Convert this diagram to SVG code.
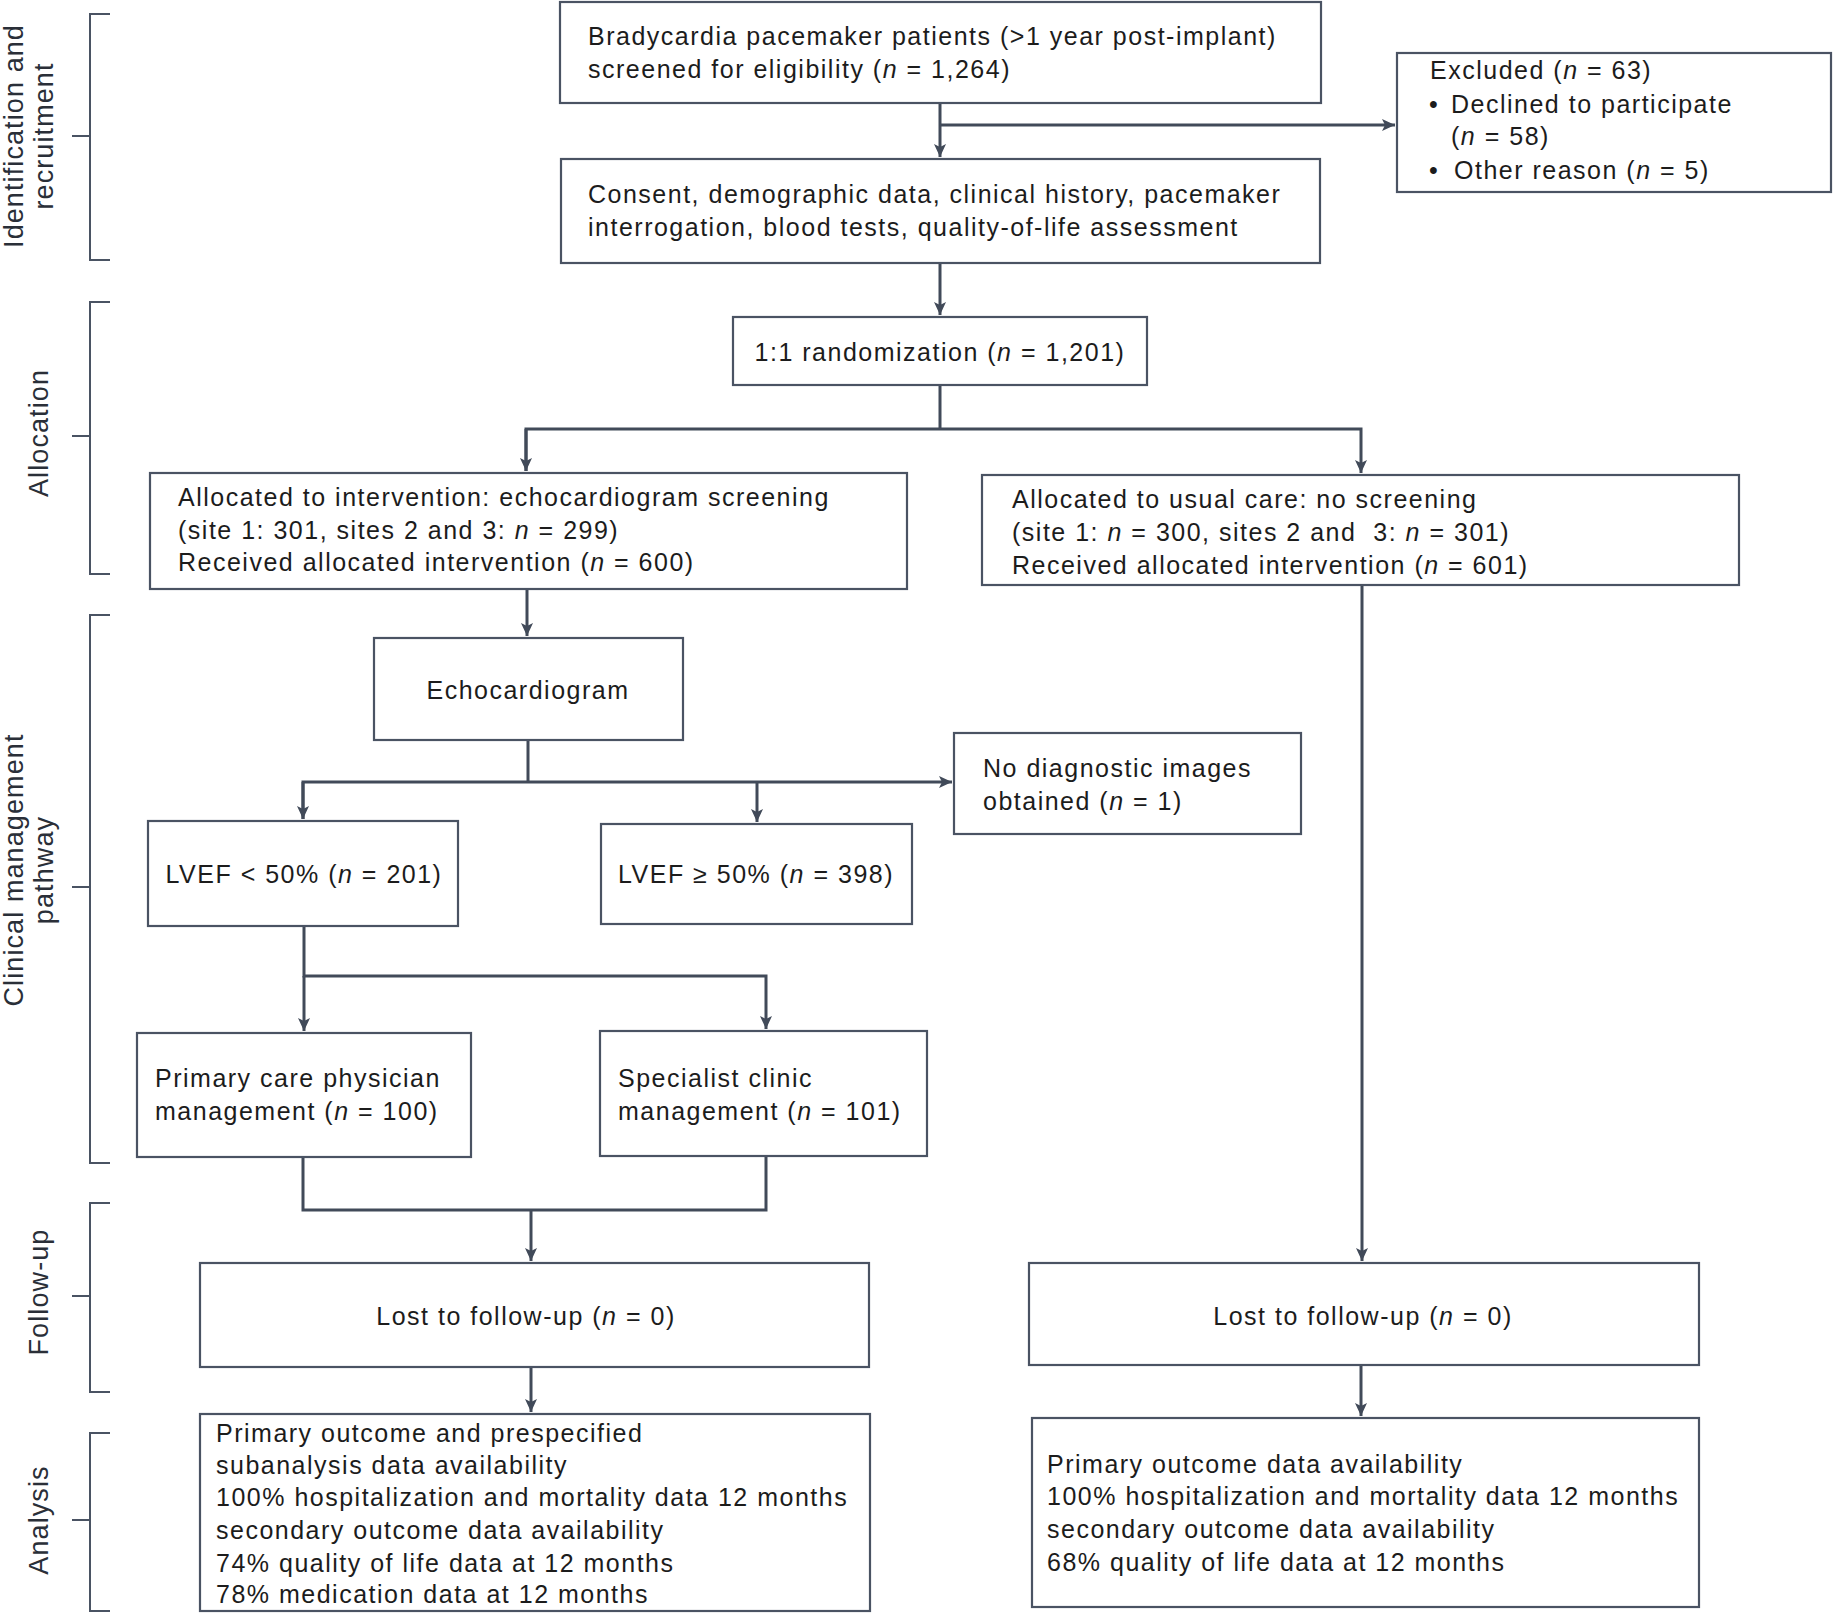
<svg xmlns="http://www.w3.org/2000/svg" width="1833" height="1613" viewBox="0 0 1833 1613">
<defs>
<marker id="ah" markerWidth="14" markerHeight="12" refX="13" refY="6" orient="auto" markerUnits="userSpaceOnUse">
<path d="M0,0 L13,6 L0,12 L3,6 z" fill="#414a59"/>
</marker>
<style>
.box{fill:#fff;stroke:#4a5363;stroke-width:2.2}
.t{font-family:"Liberation Sans",Arial,sans-serif;font-size:25px;letter-spacing:1.5px;fill:#1c1c1c}
.c{text-anchor:middle}
.lab{font-family:"Liberation Sans",Arial,sans-serif;font-size:27px;letter-spacing:1.1px;fill:#2a2f38;text-anchor:middle}
.ln{fill:none;stroke:#414a59;stroke-width:3}
.br{fill:none;stroke:#4a5363;stroke-width:2}
</style>
</defs>
<rect width="1833" height="1613" fill="#fff"/>

<g id="stages">
<path class="br" d="M110,14 H90 V260 H110 M90,136 H72"/>
<path class="br" d="M110,302 H90 V574 H110 M90,436 H72"/>
<path class="br" d="M110,615 H90 V1163 H110 M90,887 H72"/>
<path class="br" d="M110,1203 H90 V1392 H110 M90,1296 H72"/>
<path class="br" d="M110,1433 H90 V1611 H110 M90,1520 H72"/>
<text class="lab" transform="translate(23,136) rotate(-90)">Identification and</text>
<text class="lab" transform="translate(53,136) rotate(-90)">recruitment</text>
<text class="lab" transform="translate(48,433) rotate(-90)">Allocation</text>
<text class="lab" transform="translate(23,870) rotate(-90)">Clinical management</text>
<text class="lab" transform="translate(53,870) rotate(-90)">pathway</text>
<text class="lab" transform="translate(48,1292) rotate(-90)">Follow-up</text>
<text class="lab" transform="translate(48,1520) rotate(-90)">Analysis</text>
</g>

<g id="connectors">
<path class="ln" d="M940,103 V157" marker-end="url(#ah)"/>
<path class="ln" d="M940,125 H1395" marker-end="url(#ah)"/>
<path class="ln" d="M940,263 V315" marker-end="url(#ah)"/>
<path class="ln" d="M940,385 V429"/>
<path class="ln" d="M526,471 V429 H1361 V473" marker-end="url(#ah)"/>
<path class="ln" d="M526,429 V471" marker-end="url(#ah)"/>
<path class="ln" d="M527,589 V636" marker-end="url(#ah)"/>
<path class="ln" d="M528,740 V782"/>
<path class="ln" d="M303,819 V782 H952" marker-end="url(#ah)"/>
<path class="ln" d="M303,782 V819" marker-end="url(#ah)"/>
<path class="ln" d="M757,782 V822" marker-end="url(#ah)"/>
<path class="ln" d="M304,926 V976 H766 V1029" marker-end="url(#ah)"/>
<path class="ln" d="M304,976 V1031" marker-end="url(#ah)"/>
<path class="ln" d="M303,1157 V1210 H766 V1156"/>
<path class="ln" d="M531,1210 V1261" marker-end="url(#ah)"/>
<path class="ln" d="M1362,585 V1261" marker-end="url(#ah)"/>
<path class="ln" d="M531,1367 V1412" marker-end="url(#ah)"/>
<path class="ln" d="M1361,1365 V1416" marker-end="url(#ah)"/>
</g>

<g id="screened">
<rect class="box" x="560" y="2" width="761" height="101"/>
<text class="t" x="588" y="45">Bradycardia pacemaker patients (&gt;1 year post-implant)</text>
<text class="t" x="588" y="78">screened for eligibility (<tspan font-style="italic">n</tspan> = 1,264)</text>
</g>

<g id="excluded">
<rect class="box" x="1397" y="53" width="434" height="139"/>
<text class="t" x="1430" y="79">Excluded (<tspan font-style="italic">n</tspan> = 63)</text>
<text class="t" x="1429" y="113">•</text>
<text class="t" x="1451" y="113">Declined to participate</text>
<text class="t" x="1451" y="145">(<tspan font-style="italic">n</tspan> = 58)</text>
<text class="t" x="1429" y="179">•</text>
<text class="t" x="1454" y="179">Other reason (<tspan font-style="italic">n</tspan> = 5)</text>
</g>

<g id="consent">
<rect class="box" x="561" y="159" width="759" height="104"/>
<text class="t" x="588" y="203">Consent, demographic data, clinical history, pacemaker</text>
<text class="t" x="588" y="236">interrogation, blood tests, quality-of-life assessment</text>
</g>

<g id="randomization">
<rect class="box" x="733" y="317" width="414" height="68"/>
<text class="t c" x="940" y="361">1:1 randomization (<tspan font-style="italic">n</tspan> = 1,201)</text>
</g>

<g id="intervention">
<rect class="box" x="150" y="473" width="757" height="116"/>
<text class="t" x="178" y="506">Allocated to intervention: echocardiogram screening</text>
<text class="t" x="178" y="539">(site 1: 301, sites 2 and 3: <tspan font-style="italic">n</tspan> = 299)</text>
<text class="t" x="178" y="571">Received allocated intervention (<tspan font-style="italic">n</tspan> = 600)</text>
</g>

<g id="usualcare">
<rect class="box" x="982" y="475" width="757" height="110"/>
<text class="t" x="1012" y="508">Allocated to usual care: no screening</text>
<text class="t" x="1012" y="541" xml:space="preserve">(site 1: <tspan font-style="italic">n</tspan> = 300, sites 2 and  3: <tspan font-style="italic">n</tspan> = 301)</text>
<text class="t" x="1012" y="574">Received allocated intervention (<tspan font-style="italic">n</tspan> = 601)</text>
</g>

<g id="echo">
<rect class="box" x="374" y="638" width="309" height="102"/>
<text class="t c" x="528" y="699">Echocardiogram</text>
</g>

<g id="nodiag">
<rect class="box" x="954" y="733" width="347" height="101"/>
<text class="t" x="983" y="777">No diagnostic images</text>
<text class="t" x="983" y="810">obtained (<tspan font-style="italic">n</tspan> = 1)</text>
</g>

<g id="lvef-low">
<rect class="box" x="148" y="821" width="310" height="105"/>
<text class="t c" x="304" y="883">LVEF &lt; 50% (<tspan font-style="italic">n</tspan> = 201)</text>
</g>

<g id="lvef-high">
<rect class="box" x="601" y="824" width="311" height="100"/>
<text class="t c" x="756" y="883">LVEF ≥ 50% (<tspan font-style="italic">n</tspan> = 398)</text>
</g>

<g id="primarycare">
<rect class="box" x="137" y="1033" width="334" height="124"/>
<text class="t" x="155" y="1087">Primary care physician</text>
<text class="t" x="155" y="1120">management (<tspan font-style="italic">n</tspan> = 100)</text>
</g>

<g id="specialist">
<rect class="box" x="600" y="1031" width="327" height="125"/>
<text class="t" x="618" y="1087">Specialist clinic</text>
<text class="t" x="618" y="1120">management (<tspan font-style="italic">n</tspan> = 101)</text>
</g>

<g id="lost-left">
<rect class="box" x="200" y="1263" width="669" height="104"/>
<text class="t c" x="526" y="1325">Lost to follow-up (<tspan font-style="italic">n</tspan> = 0)</text>
</g>

<g id="lost-right">
<rect class="box" x="1029" y="1263" width="670" height="102"/>
<text class="t c" x="1363" y="1325">Lost to follow-up (<tspan font-style="italic">n</tspan> = 0)</text>
</g>

<g id="analysis-left">
<rect class="box" x="200" y="1414" width="670" height="197"/>
<text class="t" x="216" y="1442">Primary outcome and prespecified</text>
<text class="t" x="216" y="1474">subanalysis data availability</text>
<text class="t" x="216" y="1506">100% hospitalization and mortality data 12 months</text>
<text class="t" x="216" y="1539">secondary outcome data availability</text>
<text class="t" x="216" y="1572">74% quality of life data at 12 months</text>
<text class="t" x="216" y="1603">78% medication data at 12 months</text>
</g>

<g id="analysis-right">
<rect class="box" x="1032" y="1418" width="667" height="189"/>
<text class="t" x="1047" y="1473">Primary outcome data availability</text>
<text class="t" x="1047" y="1505">100% hospitalization and mortality data 12 months</text>
<text class="t" x="1047" y="1538">secondary outcome data availability</text>
<text class="t" x="1047" y="1571">68% quality of life data at 12 months</text>
</g>
</svg>
